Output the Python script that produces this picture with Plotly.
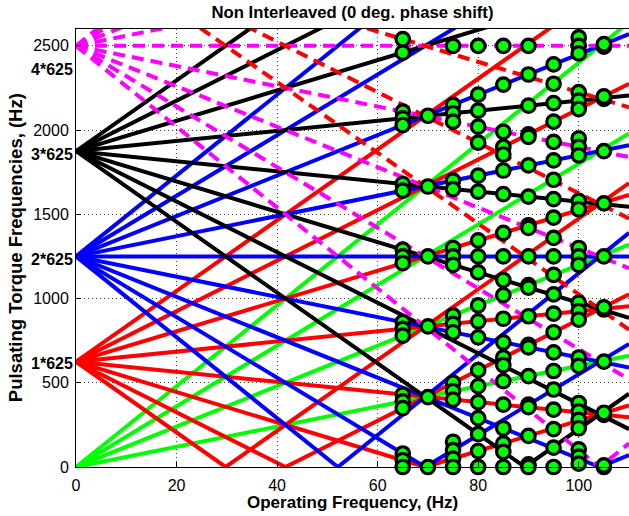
import plotly.graph_objects as go

F_MAX = 110.0      # operating-frequency axis limit, Hz
T_MAX = 2600.0     # torque-frequency axis limit, Hz
F_SW = 625.0       # carrier (switching) frequency, Hz

# Sideband slopes (multiples of the operating frequency) for each carrier multiple
green_slopes = [6, 12, 18, 24]                           # 0 * 625
red_slopes = [3, -3, 9, -9, 15, -15, 21, -21]            # 1 * 625
blue_slopes = [0, 6, -6, 12, -12, 18, -18, 24, -24]      # 2 * 625
black_slopes = [3, -3, 9, -9, 15, -15, 21, -21]          # 3 * 625
magenta_slopes = [0, 6, -6, 12, -12, 18, -18, 24, -24]   # 4 * 625
red_dash_slopes = [-9, -15, -21]                         # 5 * 625

# Dominant torque harmonics at the sampled operating points
circle_freqs = [65, 70, 75, 80, 85, 90, 95, 100, 105]
circle_values = [
    [2540, 2460, 2110, 2070, 2030, 1680, 1640, 1290, 1250, 1210, 860, 820, 780, 430, 390, 350, 80, 40, 0],
    [2085, 1665, 1250, 835, 415, 0],
    [2500, 2150, 2100, 2050, 1700, 1650, 1300, 1250, 1200, 900, 850, 800, 500, 450, 400, 150, 100, 50, 0],
    [2500, 2210, 2115, 2020, 1925, 1730, 1635, 1345, 1250, 1155, 960, 865, 770, 575, 480, 385, 290, 195, 95, 0],
    [2500, 2270, 1990, 1900, 1855, 1760, 1620, 1390, 1250, 1110, 1020, 880, 740, 650, 605, 510, 370, 230, 140, 90, 0],
    [2500, 2330, 2145, 1975, 1960, 1790, 1605, 1435, 1420, 1250, 1080, 1065, 895, 725, 710, 540, 370, 355, 185, 15, 0],
    [2390, 2275, 2160, 2050, 1930, 1820, 1705, 1590, 1480, 1360, 1250, 1140, 1025, 910, 800, 680, 570, 460, 340, 225, 115, 0],
    [2550, 2500, 2455, 2225, 2175, 2125, 1950, 1900, 1850, 1580, 1530, 1300, 1250, 1200, 975, 925, 875, 650, 600,
     380, 330, 280, 230, 105, 62, 20],
    [2495, 2510, 2185, 2200, 1875, 1565, 1250, 935, 948, 625, 310, 322, 0, 10],
]

carrier_labels = ["1*625", "2*625", "3*625", "4*625"]
carrier_label_values = [625, 1250, 1875, 2500]
carrier_label_shift = [-2, -3, -3, -24]

x_ticks = [0, 20, 40, 60, 80, 100]
y_ticks = [0, 500, 1000, 1500, 2000, 2500]

FONT = "Liberation Sans, Arial, Helvetica, sans-serif"


def harmonic_line(k, slope):
    """|k*fsw + slope*f| over the operating range, folded at zero."""
    c = k * F_SW
    xs = [0.0]
    if slope != 0:
        f0 = -c / slope
        if 0 < f0 < F_MAX:
            xs.append(f0)
    xs.append(F_MAX)
    ys = [abs(c + slope * x) for x in xs]
    return xs, ys


families = [
    (0, green_slopes, "#00ff00", "solid"),
    (1, red_slopes, "#ff0000", "solid"),
    (2, blue_slopes, "#0000ff", "solid"),
    (3, black_slopes, "#000000", "solid"),
    (4, magenta_slopes, "#ff00ff", "12px,7px"),
    (5, red_dash_slopes, "#ff0000", "12px,7px"),
]

fig = go.Figure()

for k, slopes, color, dash in families:
    for s in slopes:
        xs, ys = harmonic_line(k, s)
        fig.add_trace(go.Scatter(
            x=xs, y=ys, mode="lines",
            line=dict(color=color, width=4, dash=dash),
            hoverinfo="skip", showlegend=False,
        ))

cx, cy = [], []
for f, vals in zip(circle_freqs, circle_values):
    for v in vals:
        cx.append(f)
        cy.append(v)

fig.add_trace(go.Scatter(
    x=cx, y=cy, mode="markers",
    marker=dict(symbol="circle", size=13.5, color="#00ff00",
                line=dict(color="#000000", width=3.2)),
    cliponaxis=False, showlegend=False,
))

axis_common = dict(
    showline=True, linecolor="black", linewidth=1, mirror=True,
    ticks="inside", ticklen=5, tickcolor="black",
    showgrid=True, gridcolor="rgba(0,0,0,0.75)", gridwidth=1, griddash="1px,3px",
    zeroline=False,
    tickfont=dict(family=FONT, size=16, color="black"),
)

fig.update_xaxes(range=[0, F_MAX], tickvals=x_ticks, ticklabelstandoff=4, **axis_common)
fig.update_yaxes(range=[0, T_MAX], tickvals=y_ticks, ticklabelstandoff=3, **axis_common)

annotations = []
for text, val, shift in zip(carrier_labels, carrier_label_values, carrier_label_shift):
    annotations.append(dict(
        text=f"<b>{text}</b>", xref="paper", yref="y", x=0, y=val,
        xanchor="right", yanchor="middle", xshift=-1, yshift=shift,
        showarrow=False, font=dict(family=FONT, size=16, color="black"),
    ))

annotations.append(dict(
    text="<b>Operating Frequency, (Hz)</b>", xref="paper", yref="paper",
    x=0.5, y=-0.082, xanchor="center", yanchor="middle", showarrow=False,
    font=dict(family=FONT, size=17, color="black"),
))
annotations.append(dict(
    text="<b>Pulsating Torque Frequencies, (Hz)</b>", xref="paper", yref="paper",
    x=-0.110, y=0.5, xanchor="center", yanchor="middle", textangle=-90, showarrow=False,
    font=dict(family=FONT, size=18.5, color="black"),
))

fig.update_layout(
    width=629, height=516,
    margin=dict(l=76, r=0, t=29, b=49),
    paper_bgcolor="white", plot_bgcolor="white",
    showlegend=False,
    title=dict(text="<b>Non Interleaved (0 deg. phase shift)</b>",
               x=0.5, xref="paper", y=1 - 12 / 516, yref="container",
               xanchor="center", yanchor="middle",
               font=dict(family=FONT, size=16.7, color="black")),
    annotations=annotations,
)

fig.write_html("out.html")
